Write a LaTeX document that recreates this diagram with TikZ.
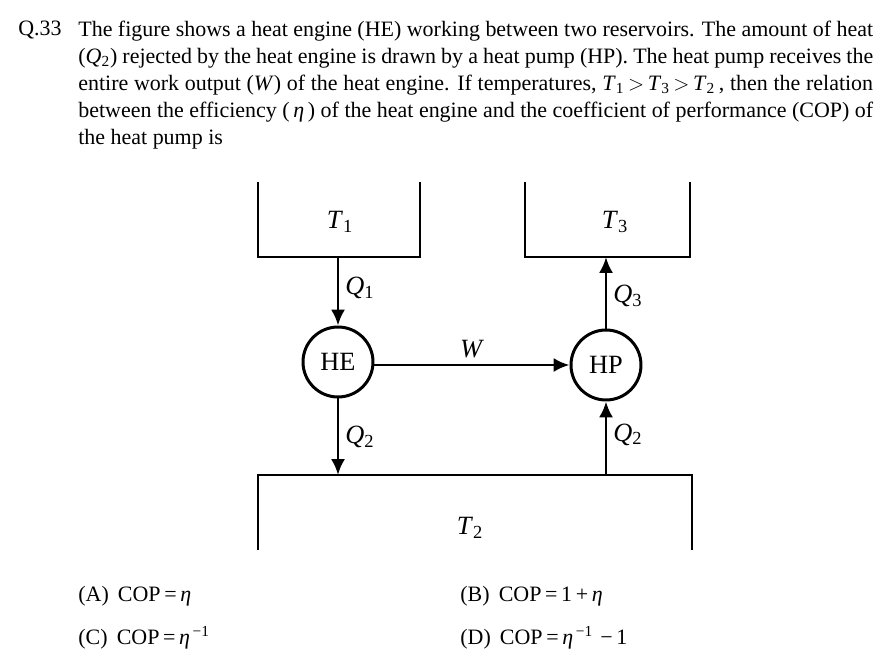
\documentclass[tikz,border=0pt]{standalone}
\usepackage{fontspec}
\setmainfont{Liberation Serif}
\usetikzlibrary{positioning, arrows.meta}
\newcommand{\sym}[2]{\textit{#1}\textsubscript{#2}}
\newcommand{\et}{\textit{η}}

\begin{document}
\begin{tikzpicture}[x=0.02cm, y=-0.02cm, font=\fontsize{12.5}{15.3}\selectfont,
    wall/.style={line width=1.7pt},
    flow/.style={line width=1.7pt, -{Latex[length=9pt,width=8pt]}},
    device/.style={circle, draw, line width=1.7pt, minimum size=1.4cm, inner sep=0pt, font=\fontsize{15}{18}\selectfont},
    lbl/.style={font=\fontsize{15}{18}\selectfont}]
    \useasboundingbox (0,0) rectangle (893,666);
    % Question text
    \node[anchor=north west, inner sep=0pt] (qno) at (18,21) {Q.33};
    \node[anchor=north west, inner sep=0pt, text width=15.9cm, align=justify] (qtext) at (78,21)
        {The figure shows a heat engine (HE) working between two reservoirs. The amount of heat (\textit{Q}\textsubscript{2}) rejected by the heat engine is drawn by a heat pump (HP). The heat pump receives the entire work output (\textit{W}) of the heat engine. If temperatures, \sym{T}{1}\,$>$\,\sym{T}{3}\,$>$\,\sym{T}{2}\,, then the relation between the efficiency (\,\et\,) of the heat engine and the coefficient of performance (COP) of the heat pump is};

    % Reservoirs
    \draw[wall] (258,182) -- (258,257) -- (420,257) -- (420,182);
    \draw[wall] (525,182) -- (525,257) -- (690,257) -- (690,182);
    \draw[wall] (258,550) -- (258,475) -- (692,475) -- (692,550);
    \node[lbl] (t1) at (340,222) {\sym{T}{1}};
    \node[lbl] (t3) at (615,222) {\sym{T}{3}};
    \node[lbl] (t2) at (470,528) {\sym{T}{2}};
    \coordinate (r1) at (338,257);
    \coordinate (r3) at (606,257);
    \coordinate (r2a) at (338,475);
    \coordinate (r2b) at (606,475);

    % Devices
    \node[device] (he) at (338,362) {HE};
    \node[device] (hp) at (606,365) {HP};

    % Energy flows
    \draw[flow] (r1) -- (he) node[lbl, pos=0.45, right] {\sym{Q}{1}};
    \draw[flow] (he) -- (r2a) node[lbl, pos=0.5, right] {\sym{Q}{2}};
    \draw[flow] (he.east |- hp) -- (hp) node[lbl, pos=0.5, above] {\textit{W}};
    \draw[flow] (hp) -- (r3) node[lbl, pos=0.45, right] {\sym{Q}{3}};
    \draw[flow] (r2b) -- (hp) node[lbl, pos=0.55, right] {\sym{Q}{2}};

    % Options
    \node[anchor=west, inner sep=0pt] (oa) at (78,596) {(A)\, COP\,=\,\et};
    \node[anchor=west, inner sep=0pt] (ob) at (460,596) {(B)\, COP\,=\,1\,+\,\et};
    \node[anchor=west, inner sep=0pt] (oc) at (78,638) {(C)\, COP\,=\,\et\textsuperscript{\,−1}};
    \node[anchor=west, inner sep=0pt] (od) at (460,638) {(D)\, COP\,=\,\et\textsuperscript{\,−1}\,\,−\,1};
\end{tikzpicture}
\end{document}
